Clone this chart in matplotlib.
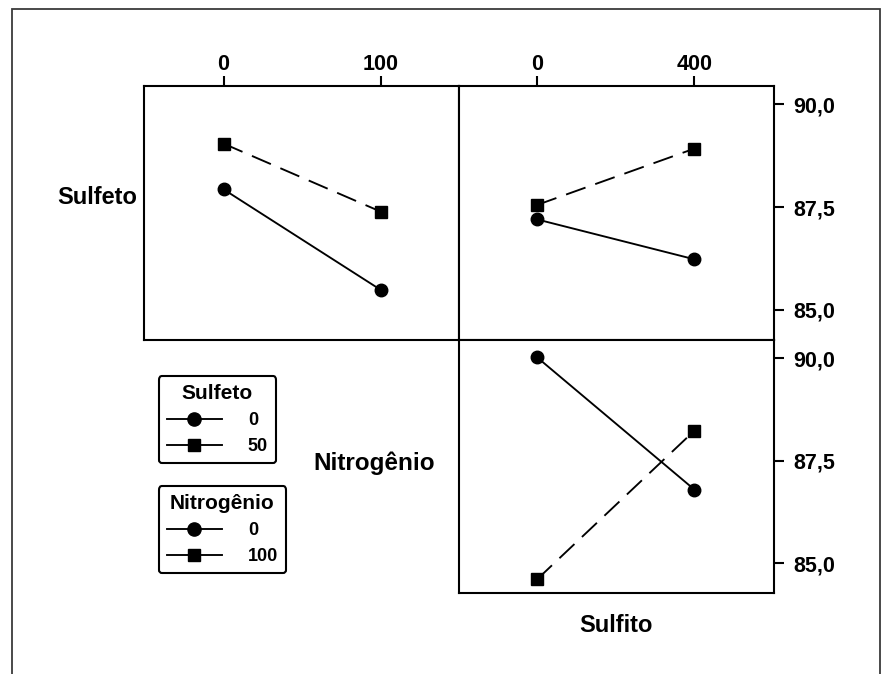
import matplotlib
matplotlib.use("Agg")
import matplotlib.pyplot as plt
from matplotlib.lines import Line2D
from matplotlib.patches import Rectangle

plt.rcParams['font.family'] = ['Liberation Sans', 'DejaVu Sans']
plt.rcParams['font.weight'] = 'bold'

# factor levels
nitro_levels = [0, 100]
sulfito_levels = [0, 400]
sulfeto_labels = ['0', '50']
nitro_labels = ['0', '100']

# cell means
sulfeto0_by_nitro = [87.93, 85.49]
sulfeto50_by_nitro = [89.04, 87.39]
sulfeto0_by_sulfito = [87.20, 86.23]
sulfeto50_by_sulfito = [87.55, 88.92]
nitro0_by_sulfito = [90.02, 86.79]
nitro100_by_sulfito = [84.60, 88.23]

yticks = [85.0, 87.5, 90.0]
ytick_labels = ['85,0', '87,5', '90,0']

W, H = 884, 674
fig = plt.figure(figsize=(W / 100, H / 100), dpi=100)


def px_axes(left, top, right, bottom):
    return fig.add_axes([left / W, 1 - bottom / H, (right - left) / W, (bottom - top) / H])


ax_tl = px_axes(143.5, 86, 459, 340)
ax_tr = px_axes(459, 86, 774, 340)
ax_br = px_axes(459, 340, 774, 593)

ylim = (84.27, 90.44)
circ = dict(color='k', marker='o', ms=9, lw=1.35, ls='-')
sq = dict(color='k', marker='s', ms=8, lw=1.35, ls=(0, (11, 5.5)))

ax_tl.plot(nitro_levels, sulfeto0_by_nitro, **circ)
ax_tl.plot(nitro_levels, sulfeto50_by_nitro, **sq)
ax_tr.plot(sulfito_levels, sulfeto0_by_sulfito, **circ)
ax_tr.plot(sulfito_levels, sulfeto50_by_sulfito, **sq)
ax_br.plot(sulfito_levels, nitro0_by_sulfito, **circ)
ax_br.plot(sulfito_levels, nitro100_by_sulfito, **sq)

ax_tl.set_xlim(-51, 150)
ax_tr.set_xlim(-198, 602)
ax_br.set_xlim(-198, 602)

for ax in (ax_tl, ax_tr, ax_br):
    ax.set_ylim(*ylim)
    for s in ax.spines.values():
        s.set_linewidth(1.5)
    ax.tick_params(which='both', bottom=False, left=False, labelbottom=False, labelleft=False,
                   top=False, right=False, labeltop=False, labelright=False,
                   length=7, width=1.5, labelsize=15.5)

ax_tl.set_xticks(nitro_levels)
ax_tl.set_xticklabels([str(v) for v in nitro_levels])
ax_tl.tick_params(top=True, labeltop=True, pad=1)
ax_tl.set_yticks([])

ax_tr.set_xticks(sulfito_levels)
ax_tr.set_xticklabels([str(v) for v in sulfito_levels])
ax_tr.tick_params(axis='x', top=True, labeltop=True, pad=1)
ax_tr.set_yticks(yticks)
ax_tr.set_yticklabels(ytick_labels)
ax_tr.tick_params(axis='y', right=True, labelright=True, pad=7)

ax_br.set_xticks([])
ax_br.set_yticks(yticks)
ax_br.set_yticklabels(ytick_labels)
ax_br.tick_params(axis='y', right=True, labelright=True, pad=7)

# factor names on the diagonal
fig.text(97.5 / W, 1 - 198 / H, 'Sulfeto', ha='center', va='center', fontsize=17)
fig.text(374 / W, 1 - 463 / H, 'Nitrogênio', ha='center', va='center', fontsize=17.5)
fig.text(616 / W, 1 - 626 / H, 'Sulfito', ha='center', va='center', fontsize=17)

# legends
def add_legend(title, labels, top):
    handles = [Line2D([], [], color='k', marker='o', ms=9.5, lw=1.35),
               Line2D([], [], color='k', marker='s', ms=8.5, lw=1.35)]
    leg = fig.legend(handles, labels, title=title, loc='upper left',
                     bbox_to_anchor=(158.5 / W, 1 - top / H), borderaxespad=0,
                     fancybox=True, framealpha=1, edgecolor='k',
                     handlelength=3.05, handletextpad=1.45, labelspacing=0.5,
                     borderpad=0.45, prop={'size': 13, 'weight': 'bold'},
                     title_fontproperties={'size': 15, 'weight': 'bold'})
    leg.get_frame().set_linewidth(1.5)
    return leg

add_legend('Sulfeto', sulfeto_labels, 376)
add_legend('Nitrogênio', nitro_labels, 486)

# outer frame
fig.add_artist(Rectangle((12 / W, -0.1), (880 - 12) / W, 1.1 - 9 / H,
                         transform=fig.transFigure, fill=False, ec='#3a3a3a', lw=1.3))

fig.savefig('out.png', dpi=100)
